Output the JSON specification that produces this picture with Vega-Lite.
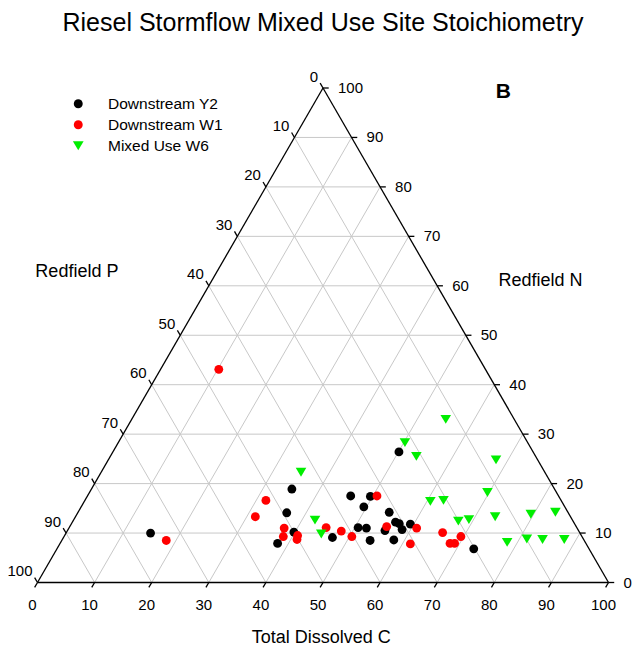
{
  "$schema": "https://vega.github.io/schema/vega-lite/v6.json",
  "width": 571,
  "height": 494.5,
  "autosize": {"type": "none"},
  "padding": {"left": 37.5, "top": 88, "right": 33.5, "bottom": 64.5},
  "background": "white",
  "title": {
    "text": "Riesel Stormflow Mixed Use Site Stoichiometry",
    "fontSize": 25,
    "font": "Liberation Sans",
    "fontWeight": "normal",
    "color": "black",
    "anchor": "middle",
    "frame": "group",
    "offset": 34
  },
  "config": {"view": {"stroke": null}, "font": "Liberation Sans"},
  "layer": [
    {
      "data": {"values": [
        {"C1": 0, "N1": 10, "C2": 90, "N2": 10},
        {"C1": 0, "N1": 20, "C2": 80, "N2": 20},
        {"C1": 0, "N1": 30, "C2": 70, "N2": 30},
        {"C1": 0, "N1": 40, "C2": 60, "N2": 40},
        {"C1": 0, "N1": 50, "C2": 50, "N2": 50},
        {"C1": 0, "N1": 60, "C2": 40, "N2": 60},
        {"C1": 0, "N1": 70, "C2": 30, "N2": 70},
        {"C1": 0, "N1": 80, "C2": 20, "N2": 80},
        {"C1": 0, "N1": 90, "C2": 10, "N2": 90},
        {"C1": 10, "N1": 0, "C2": 10, "N2": 90},
        {"C1": 20, "N1": 0, "C2": 20, "N2": 80},
        {"C1": 30, "N1": 0, "C2": 30, "N2": 70},
        {"C1": 40, "N1": 0, "C2": 40, "N2": 60},
        {"C1": 50, "N1": 0, "C2": 50, "N2": 50},
        {"C1": 60, "N1": 0, "C2": 60, "N2": 40},
        {"C1": 70, "N1": 0, "C2": 70, "N2": 30},
        {"C1": 80, "N1": 0, "C2": 80, "N2": 20},
        {"C1": 90, "N1": 0, "C2": 90, "N2": 10},
        {"C1": 90, "N1": 0, "C2": 0, "N2": 90},
        {"C1": 80, "N1": 0, "C2": 0, "N2": 80},
        {"C1": 70, "N1": 0, "C2": 0, "N2": 70},
        {"C1": 60, "N1": 0, "C2": 0, "N2": 60},
        {"C1": 50, "N1": 0, "C2": 0, "N2": 50},
        {"C1": 40, "N1": 0, "C2": 0, "N2": 40},
        {"C1": 30, "N1": 0, "C2": 0, "N2": 30},
        {"C1": 20, "N1": 0, "C2": 0, "N2": 20},
        {"C1": 10, "N1": 0, "C2": 0, "N2": 10}
      ]},
      "transform": [
        {"calculate": "datum.C1 + datum.N1 / 2", "as": "u1"},
        {"calculate": "datum.C2 + datum.N2 / 2", "as": "u2"}
      ],
      "mark": {"type": "rule", "color": "#c8c8c8", "strokeWidth": 1},
      "encoding": {
        "x": {"field": "u1", "type": "quantitative", "scale": {"domain": [0, 100], "nice": false}, "axis": null},
        "y": {"field": "N1", "type": "quantitative", "scale": {"domain": [0, 100], "nice": false}, "axis": null},
        "x2": {"field": "u2"},
        "y2": {"field": "N2"}
      }
    },
    {
      "data": {"values": [
        {"C1": 0, "N1": 0, "C2": 100, "N2": 0},
        {"C1": 100, "N1": 0, "C2": 0, "N2": 100},
        {"C1": 0, "N1": 100, "C2": 0, "N2": 0},
        {"C1": 0, "N1": 0, "C2": 0, "N2": -1},
        {"C1": 10, "N1": 0, "C2": 10, "N2": -1},
        {"C1": 20, "N1": 0, "C2": 20, "N2": -1},
        {"C1": 30, "N1": 0, "C2": 30, "N2": -1},
        {"C1": 40, "N1": 0, "C2": 40, "N2": -1},
        {"C1": 50, "N1": 0, "C2": 50, "N2": -1},
        {"C1": 60, "N1": 0, "C2": 60, "N2": -1},
        {"C1": 70, "N1": 0, "C2": 70, "N2": -1},
        {"C1": 80, "N1": 0, "C2": 80, "N2": -1},
        {"C1": 90, "N1": 0, "C2": 90, "N2": -1},
        {"C1": 100, "N1": 0, "C2": 100, "N2": -1},
        {"C1": 100, "N1": 0, "C2": 101, "N2": 0},
        {"C1": 90, "N1": 10, "C2": 91, "N2": 10},
        {"C1": 80, "N1": 20, "C2": 81, "N2": 20},
        {"C1": 70, "N1": 30, "C2": 71, "N2": 30},
        {"C1": 60, "N1": 40, "C2": 61, "N2": 40},
        {"C1": 50, "N1": 50, "C2": 51, "N2": 50},
        {"C1": 40, "N1": 60, "C2": 41, "N2": 60},
        {"C1": 30, "N1": 70, "C2": 31, "N2": 70},
        {"C1": 20, "N1": 80, "C2": 21, "N2": 80},
        {"C1": 10, "N1": 90, "C2": 11, "N2": 90},
        {"C1": 0, "N1": 100, "C2": 1, "N2": 100},
        {"C1": 0, "N1": 100, "C2": -1, "N2": 101},
        {"C1": 0, "N1": 90, "C2": -1, "N2": 91},
        {"C1": 0, "N1": 80, "C2": -1, "N2": 81},
        {"C1": 0, "N1": 70, "C2": -1, "N2": 71},
        {"C1": 0, "N1": 60, "C2": -1, "N2": 61},
        {"C1": 0, "N1": 50, "C2": -1, "N2": 51},
        {"C1": 0, "N1": 40, "C2": -1, "N2": 41},
        {"C1": 0, "N1": 30, "C2": -1, "N2": 31},
        {"C1": 0, "N1": 20, "C2": -1, "N2": 21},
        {"C1": 0, "N1": 10, "C2": -1, "N2": 11},
        {"C1": 0, "N1": 0, "C2": -1, "N2": 1}
      ]},
      "transform": [
        {"calculate": "datum.C1 + datum.N1 / 2", "as": "u1"},
        {"calculate": "datum.C2 + datum.N2 / 2", "as": "u2"}
      ],
      "mark": {"type": "rule", "color": "black", "strokeWidth": 1.3},
      "encoding": {
        "x": {"field": "u1", "type": "quantitative", "scale": {"domain": [0, 100], "nice": false}, "axis": null},
        "y": {"field": "N1", "type": "quantitative", "scale": {"domain": [0, 100], "nice": false}, "axis": null},
        "x2": {"field": "u2"},
        "y2": {"field": "N2"}
      }
    },
    {
      "data": {"values": [
        {"C": 0, "N": 0, "label": "0"},
        {"C": 10, "N": 0, "label": "10"},
        {"C": 20, "N": 0, "label": "20"},
        {"C": 30, "N": 0, "label": "30"},
        {"C": 40, "N": 0, "label": "40"},
        {"C": 50, "N": 0, "label": "50"},
        {"C": 60, "N": 0, "label": "60"},
        {"C": 70, "N": 0, "label": "70"},
        {"C": 80, "N": 0, "label": "80"},
        {"C": 90, "N": 0, "label": "90"},
        {"C": 100, "N": 0, "label": "100"}
      ]},
      "transform": [{"calculate": "datum.C + datum.N / 2", "as": "u"}],
      "mark": {"type": "text", "align": "center", "baseline": "middle", "dx": -5, "dy": 22.5, "fontSize": 15, "color": "black"},
      "encoding": {
        "x": {"field": "u", "type": "quantitative", "scale": {"domain": [0, 100], "nice": false}, "axis": null},
        "y": {"field": "N", "type": "quantitative", "scale": {"domain": [0, 100], "nice": false}, "axis": null},
        "text": {"field": "label"}
      }
    },
    {
      "data": {"values": [
        {"C": 100, "N": 0, "label": "0"},
        {"C": 90, "N": 10, "label": "10"},
        {"C": 80, "N": 20, "label": "20"},
        {"C": 70, "N": 30, "label": "30"},
        {"C": 60, "N": 40, "label": "40"},
        {"C": 50, "N": 50, "label": "50"},
        {"C": 40, "N": 60, "label": "60"},
        {"C": 30, "N": 70, "label": "70"},
        {"C": 20, "N": 80, "label": "80"},
        {"C": 10, "N": 90, "label": "90"},
        {"C": 0, "N": 100, "label": "100"}
      ]},
      "transform": [{"calculate": "datum.C + datum.N / 2", "as": "u"}],
      "mark": {"type": "text", "align": "left", "baseline": "middle", "dx": 15, "dy": 0, "fontSize": 15, "color": "black"},
      "encoding": {
        "x": {"field": "u", "type": "quantitative", "scale": {"domain": [0, 100], "nice": false}, "axis": null},
        "y": {"field": "N", "type": "quantitative", "scale": {"domain": [0, 100], "nice": false}, "axis": null},
        "text": {"field": "label"}
      }
    },
    {
      "data": {"values": [
        {"C": 0, "N": 100, "label": "0"},
        {"C": 0, "N": 90, "label": "10"},
        {"C": 0, "N": 80, "label": "20"},
        {"C": 0, "N": 70, "label": "30"},
        {"C": 0, "N": 60, "label": "40"},
        {"C": 0, "N": 50, "label": "50"},
        {"C": 0, "N": 40, "label": "60"},
        {"C": 0, "N": 30, "label": "70"},
        {"C": 0, "N": 20, "label": "80"},
        {"C": 0, "N": 10, "label": "90"},
        {"C": 0, "N": 0, "label": "100"}
      ]},
      "transform": [{"calculate": "datum.C + datum.N / 2", "as": "u"}],
      "mark": {"type": "text", "align": "right", "baseline": "middle", "dx": -5, "dy": -11.5, "fontSize": 15, "color": "black"},
      "encoding": {
        "x": {"field": "u", "type": "quantitative", "scale": {"domain": [0, 100], "nice": false}, "axis": null},
        "y": {"field": "N", "type": "quantitative", "scale": {"domain": [0, 100], "nice": false}, "axis": null},
        "text": {"field": "label"}
      }
    },
    {
      "data": {"values": [
        {"text": "Redfield P", "u": 6.9, "N": 62.7},
        {"text": "Redfield N", "u": 88.1, "N": 61.0},
        {"text": "Total Dissolved C", "u": 49.7, "N": -11.2}
      ]},
      "mark": {"type": "text", "align": "center", "baseline": "middle", "color": "black", "fontSize": 18},
      "encoding": {
        "x": {"field": "u", "type": "quantitative", "scale": {"domain": [0, 100], "nice": false}, "axis": null},
        "y": {"field": "N", "type": "quantitative", "scale": {"domain": [0, 100], "nice": false}, "axis": null},
        "text": {"field": "text"}
      }
    },
    {
      "data": {"values": [
        {"text": "B", "u": 81.6, "N": 99.1}
      ]},
      "mark": {"type": "text", "align": "center", "baseline": "middle", "color": "black", "fontSize": 21, "fontWeight": "bold", "font": "Liberation Sans"},
      "encoding": {
        "x": {"field": "u", "type": "quantitative", "scale": {"domain": [0, 100], "nice": false}, "axis": null},
        "y": {"field": "N", "type": "quantitative", "scale": {"domain": [0, 100], "nice": false}, "axis": null},
        "text": {"field": "text"}
      }
    },
    {
      "data": {"values": [
        {"site": "Downstream Y2", "C": 14.8, "N": 10.0, "P": 75.2},
        {"site": "Downstream Y2", "C": 35.1, "N": 18.9, "P": 46.0},
        {"site": "Downstream Y2", "C": 36.6, "N": 14.1, "P": 49.3},
        {"site": "Downstream Y2", "C": 39.8, "N": 10.2, "P": 50.0},
        {"site": "Downstream Y2", "C": 38.1, "N": 7.9, "P": 54.0},
        {"site": "Downstream Y2", "C": 47.1, "N": 9.1, "P": 43.8},
        {"site": "Downstream Y2", "C": 46.1, "N": 17.5, "P": 36.4},
        {"site": "Downstream Y2", "C": 49.6, "N": 17.4, "P": 33.0},
        {"site": "Downstream Y2", "C": 49.5, "N": 15.3, "P": 35.2},
        {"site": "Downstream Y2", "C": 54.5, "N": 14.2, "P": 31.3},
        {"site": "Downstream Y2", "C": 56.6, "N": 12.2, "P": 31.2},
        {"site": "Downstream Y2", "C": 57.4, "N": 11.9, "P": 30.7},
        {"site": "Downstream Y2", "C": 58.5, "N": 10.7, "P": 30.8},
        {"site": "Downstream Y2", "C": 59.4, "N": 11.8, "P": 28.8},
        {"site": "Downstream Y2", "C": 55.6, "N": 10.5, "P": 33.9},
        {"site": "Downstream Y2", "C": 50.6, "N": 11.1, "P": 38.3},
        {"site": "Downstream Y2", "C": 52.1, "N": 11.0, "P": 36.9},
        {"site": "Downstream Y2", "C": 54.0, "N": 8.5, "P": 37.5},
        {"site": "Downstream Y2", "C": 58.1, "N": 8.6, "P": 33.3},
        {"site": "Downstream Y2", "C": 50.1, "N": 26.4, "P": 23.5},
        {"site": "Downstream Y2", "C": 73.0, "N": 6.8, "P": 20.2},
        {"site": "Downstream W1", "C": 10.2, "N": 43.1, "P": 46.7},
        {"site": "Downstream W1", "C": 18.3, "N": 8.5, "P": 73.2},
        {"site": "Downstream W1", "C": 31.7, "N": 16.6, "P": 51.7},
        {"site": "Downstream W1", "C": 31.5, "N": 13.3, "P": 55.2},
        {"site": "Downstream W1", "C": 37.7, "N": 11.0, "P": 51.3},
        {"site": "Downstream W1", "C": 38.4, "N": 9.3, "P": 52.3},
        {"site": "Downstream W1", "C": 40.8, "N": 9.5, "P": 49.7},
        {"site": "Downstream W1", "C": 41.1, "N": 8.7, "P": 50.2},
        {"site": "Downstream W1", "C": 45.0, "N": 11.1, "P": 43.9},
        {"site": "Downstream W1", "C": 48.0, "N": 10.4, "P": 41.6},
        {"site": "Downstream W1", "C": 50.4, "N": 9.3, "P": 40.3},
        {"site": "Downstream W1", "C": 50.7, "N": 17.5, "P": 31.8},
        {"site": "Downstream W1", "C": 55.5, "N": 11.3, "P": 33.2},
        {"site": "Downstream W1", "C": 60.9, "N": 11.0, "P": 28.1},
        {"site": "Downstream W1", "C": 61.4, "N": 7.8, "P": 30.8},
        {"site": "Downstream W1", "C": 65.9, "N": 10.1, "P": 24.0},
        {"site": "Downstream W1", "C": 68.3, "N": 7.9, "P": 23.8},
        {"site": "Downstream W1", "C": 69.1, "N": 7.9, "P": 23.0},
        {"site": "Downstream W1", "C": 69.5, "N": 9.3, "P": 21.2},
        {"site": "Mixed Use W6", "C": 35.0, "N": 22.3, "P": 42.7},
        {"site": "Mixed Use W6", "C": 42.3, "N": 12.6, "P": 45.1},
        {"site": "Mixed Use W6", "C": 44.8, "N": 9.8, "P": 45.4},
        {"site": "Mixed Use W6", "C": 55.0, "N": 33.0, "P": 12.0},
        {"site": "Mixed Use W6", "C": 50.2, "N": 28.3, "P": 21.5},
        {"site": "Mixed Use W6", "C": 53.6, "N": 25.5, "P": 20.9},
        {"site": "Mixed Use W6", "C": 60.6, "N": 16.4, "P": 23.0},
        {"site": "Mixed Use W6", "C": 62.8, "N": 16.6, "P": 20.6},
        {"site": "Mixed Use W6", "C": 67.9, "N": 24.8, "P": 7.3},
        {"site": "Mixed Use W6", "C": 69.7, "N": 18.2, "P": 12.1},
        {"site": "Mixed Use W6", "C": 67.5, "N": 12.4, "P": 20.1},
        {"site": "Mixed Use W6", "C": 69.2, "N": 12.7, "P": 18.1},
        {"site": "Mixed Use W6", "C": 73.5, "N": 13.3, "P": 13.2},
        {"site": "Mixed Use W6", "C": 79.5, "N": 13.8, "P": 6.7},
        {"site": "Mixed Use W6", "C": 83.6, "N": 14.2, "P": 2.2},
        {"site": "Mixed Use W6", "C": 78.2, "N": 8.1, "P": 13.7},
        {"site": "Mixed Use W6", "C": 81.3, "N": 8.8, "P": 9.9},
        {"site": "Mixed Use W6", "C": 84.1, "N": 8.7, "P": 7.2},
        {"site": "Mixed Use W6", "C": 87.9, "N": 8.7, "P": 3.4}
      ]},
      "transform": [{"calculate": "datum.C + datum.N / 2", "as": "u"}],
      "mark": {"type": "point", "filled": true, "opacity": 1, "size": 78, "strokeWidth": 0},
      "encoding": {
        "x": {"field": "u", "type": "quantitative", "scale": {"domain": [0, 100], "nice": false}, "axis": null},
        "y": {"field": "N", "type": "quantitative", "scale": {"domain": [0, 100], "nice": false}, "axis": null},
        "color": {
          "field": "site", "type": "nominal",
          "scale": {"domain": ["Downstream Y2", "Downstream W1", "Mixed Use W6"], "range": ["#000000", "#ff0000", "#00ee00"]},
          "legend": {"title": null, "orient": "none", "legendX": 33, "legendY": 8, "labelFontSize": 15.5, "labelFont": "Liberation Sans", "labelColor": "black", "rowPadding": 4, "labelOffset": 22, "symbolSize": 80, "symbolStrokeWidth": 0, "padding": 0}
        },
        "shape": {
          "field": "site", "type": "nominal",
          "scale": {"domain": ["Downstream Y2", "Downstream W1", "Mixed Use W6"], "range": ["circle", "circle", "M-1.2,-1L1.2,-1L0,1Z"]},
          "legend": {"title": null, "orient": "none", "legendX": 33, "legendY": 8, "labelFontSize": 15.5, "labelFont": "Liberation Sans", "labelColor": "black", "rowPadding": 4, "labelOffset": 22, "symbolSize": 80, "symbolStrokeWidth": 0, "padding": 0}
        }
      }
    }
  ]
}
